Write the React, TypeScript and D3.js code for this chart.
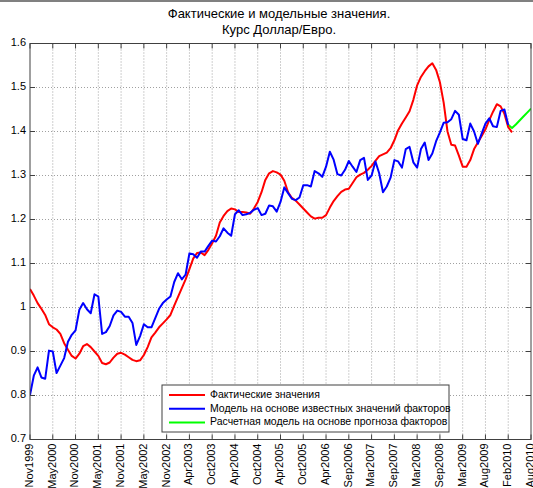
import React, { useEffect, useRef } from 'react';
import * as d3 from 'd3';

// подписи оси X (каждые 6 точек)
const tickLabels = [
    'Nov1999', 'May2000', 'Nov2000', 'May2001', 'Nov2001', 'May2002', 'Nov2002',
    'Apr2003', 'Oct2003', 'Apr2004', 'Oct2004', 'Apr2005', 'Oct2005', 'Apr2006',
    'Sep2006', 'Mar2007', 'Sep2007', 'Mar2008', 'Sep2008', 'Mar2009', 'Aug2009',
    'Feb2010', 'Aug2010',
];

const yTicks = [0.7, 0.8, 0.9, 1.0, 1.1, 1.2, 1.3, 1.4, 1.5, 1.6];

// фактические значения
const actual = [
    1.042, 1.027, 1.010, 0.997, 0.983, 0.962, 0.955, 0.950, 0.940, 0.919,
    0.904, 0.890, 0.884, 0.895, 0.912, 0.917, 0.910, 0.900, 0.890, 0.874,
    0.871, 0.875, 0.886, 0.895, 0.897, 0.893, 0.887, 0.881, 0.878, 0.880,
    0.892, 0.910, 0.932, 0.943, 0.955, 0.964, 0.973, 0.983, 1.004, 1.024,
    1.044, 1.064, 1.087, 1.111, 1.124, 1.125, 1.119, 1.131, 1.146, 1.163,
    1.193, 1.208, 1.219, 1.225, 1.223, 1.217, 1.217, 1.216, 1.213, 1.225,
    1.240, 1.262, 1.290, 1.305, 1.310, 1.307, 1.302, 1.288, 1.262, 1.249,
    1.243, 1.234, 1.225, 1.216, 1.207, 1.202, 1.204, 1.204, 1.210, 1.227,
    1.242, 1.253, 1.263, 1.268, 1.270, 1.283, 1.296, 1.302, 1.306, 1.313,
    1.322, 1.333, 1.344, 1.348, 1.352, 1.362, 1.380, 1.403, 1.418, 1.432,
    1.446, 1.472, 1.505, 1.524, 1.537, 1.548, 1.555, 1.540, 1.512, 1.465,
    1.400, 1.370, 1.368, 1.345, 1.320, 1.320, 1.335, 1.360, 1.375, 1.390,
    1.405, 1.426, 1.445, 1.462, 1.457, 1.440, 1.410, 1.398,
];

// модель на основе известных значений факторов
const model = [
    0.801, 0.845, 0.864, 0.841, 0.838, 0.902, 0.900, 0.851, 0.868, 0.885,
    0.922, 0.938, 0.948, 0.995, 1.010, 0.996, 0.987, 1.030, 1.025, 0.940,
    0.944, 0.958, 0.982, 0.993, 0.990, 0.979, 0.979, 0.965, 0.915, 0.935,
    0.962, 0.955, 0.955, 0.976, 0.997, 1.010, 1.018, 1.025, 1.058, 1.078,
    1.064, 1.075, 1.123, 1.121, 1.113, 1.127, 1.127, 1.140, 1.152, 1.150,
    1.162, 1.180, 1.170, 1.163, 1.212, 1.221, 1.210, 1.212, 1.215, 1.222,
    1.226, 1.210, 1.213, 1.232, 1.230, 1.218, 1.240, 1.273, 1.260, 1.247,
    1.244, 1.250, 1.278, 1.278, 1.275, 1.310, 1.305, 1.297, 1.320, 1.354,
    1.336, 1.303, 1.300, 1.313, 1.333, 1.320, 1.308, 1.335, 1.340, 1.290,
    1.300, 1.332, 1.305, 1.262, 1.275, 1.295, 1.335, 1.332, 1.318, 1.360,
    1.365, 1.330, 1.318, 1.360, 1.375, 1.335, 1.350, 1.378, 1.398, 1.420,
    1.421, 1.428, 1.447, 1.438, 1.383, 1.380, 1.418, 1.400, 1.372, 1.395,
    1.418, 1.430, 1.412, 1.410, 1.447, 1.450, 1.415,
];

// расчетная модель на основе прогноза факторов
const forecastStart = 126;
const forecast = [1.415, 1.408, 1.416, 1.425, 1.434, 1.443, 1.452];

const legendItems = [
    { label: 'Фактические значения', color: '#ff0000' },
    { label: 'Модель на основе известных значений факторов', color: '#0000ff' },
    { label: 'Расчетная модель на основе прогноза факторов', color: '#00ff00' },
];

const App: React.FC = () => {
    const svgRef = useRef<SVGSVGElement>(null);

    useEffect(() => {
        if (!svgRef.current) return;
        document.body.style.margin = '0';

        const svg = d3.select(svgRef.current);
        svg.selectAll('*').remove();

        const width = 533;
        const height = 488;
        const left = 30;
        const right = 531;
        const top = 43.5;
        const bottom = 439.5;
        const font = '"Liberation Sans", Arial, sans-serif';

        const nPoints = (tickLabels.length - 1) * 6;
        const x = d3.scaleLinear().domain([0, nPoints]).range([left, right]);
        const y = d3.scaleLinear().domain([0.7, 1.6]).range([bottom, top]);

        svg.append('rect')
            .attr('width', width)
            .attr('height', height)
            .attr('fill', '#fff');

        // серая линия сверху
        svg.append('line')
            .attr('x1', 0).attr('x2', width)
            .attr('y1', 1).attr('y2', 1)
            .attr('stroke', '#808080')
            .attr('stroke-width', 2);

        // заголовок
        const title = svg.append('text')
            .attr('x', 279)
            .attr('text-anchor', 'middle')
            .attr('font-family', font)
            .attr('font-size', '13px')
            .attr('fill', '#000');
        title.append('tspan').attr('x', 279).attr('y', 18).text('Фактические и модельные значения.');
        title.append('tspan').attr('x', 279).attr('y', 34).text('Курс Доллар/Евро.');

        // сетка
        const xTickIdx = d3.range(0, nPoints + 1, 6);
        svg.append('g')
            .selectAll('line')
            .data(xTickIdx.slice(1, -1))
            .join('line')
            .attr('x1', d => x(d)).attr('x2', d => x(d))
            .attr('y1', top).attr('y2', bottom)
            .attr('stroke', '#a0a0a0')
            .attr('stroke-width', 1)
            .attr('stroke-dasharray', '1,2');

        svg.append('g')
            .selectAll('line')
            .data(yTicks.slice(1, -1))
            .join('line')
            .attr('x1', left).attr('x2', right)
            .attr('y1', d => y(d)).attr('y2', d => y(d))
            .attr('stroke', '#a0a0a0')
            .attr('stroke-width', 1)
            .attr('stroke-dasharray', '1,2');

        // линии данных
        const clipId = 'plot-clip';
        svg.append('clipPath').attr('id', clipId)
            .append('rect')
            .attr('x', left).attr('y', top)
            .attr('width', right - left).attr('height', bottom - top);

        const line = d3.line<[number, number]>()
            .x(d => x(d[0]))
            .y(d => y(d[1]));

        const series: { data: [number, number][]; color: string }[] = [
            { data: forecast.map((v, i) => [forecastStart + i, v]), color: '#00ff00' },
            { data: actual.map((v, i) => [i, v]), color: '#ff0000' },
            { data: model.map((v, i) => [i, v]), color: '#0000ff' },
        ];

        series.forEach(s => {
            svg.append('path')
                .attr('d', line(s.data) as string)
                .attr('fill', 'none')
                .attr('stroke', s.color)
                .attr('stroke-width', 2)
                .attr('stroke-linejoin', 'round')
                .attr('clip-path', `url(#${clipId})`);
        });

        // рамка осей
        svg.append('rect')
            .attr('x', left).attr('y', top)
            .attr('width', right - left).attr('height', bottom - top)
            .attr('fill', 'none')
            .attr('stroke', '#404040')
            .attr('stroke-width', 1);

        // засечки
        const tickLen = 5;
        xTickIdx.forEach(d => {
            svg.append('line')
                .attr('x1', x(d)).attr('x2', x(d))
                .attr('y1', bottom).attr('y2', bottom - tickLen)
                .attr('stroke', '#404040');
            svg.append('line')
                .attr('x1', x(d)).attr('x2', x(d))
                .attr('y1', top).attr('y2', top + tickLen)
                .attr('stroke', '#404040');
        });
        yTicks.forEach(d => {
            svg.append('line')
                .attr('x1', left).attr('x2', left + tickLen)
                .attr('y1', y(d)).attr('y2', y(d))
                .attr('stroke', '#404040');
            svg.append('line')
                .attr('x1', right).attr('x2', right - tickLen)
                .attr('y1', y(d)).attr('y2', y(d))
                .attr('stroke', '#404040');
        });

        // подписи оси Y
        svg.append('g')
            .selectAll('text')
            .data(yTicks)
            .join('text')
            .attr('x', left - 4)
            .attr('y', d => y(d))
            .attr('text-anchor', 'end')
            .attr('dominant-baseline', 'middle')
            .attr('font-family', font)
            .attr('font-size', '11px')
            .attr('fill', '#000')
            .text(d => `${+d.toFixed(1)}`);

        // подписи оси X
        svg.append('g')
            .selectAll('text')
            .data(xTickIdx)
            .join('text')
            .attr('transform', d => `translate(${x(d)}, ${bottom + 4}) rotate(-90)`)
            .attr('text-anchor', 'end')
            .attr('dominant-baseline', 'middle')
            .attr('font-family', font)
            .attr('font-size', '11px')
            .attr('fill', '#000')
            .text((d, i) => tickLabels[i]);

        // легенда
        const lx = 162;
        const ly = 385;
        svg.append('rect')
            .attr('x', lx).attr('y', ly)
            .attr('width', 287).attr('height', 47)
            .attr('fill', '#fff')
            .attr('stroke', '#404040')
            .attr('stroke-width', 1);

        legendItems.forEach((item, i) => {
            const yy = ly + 10 + i * 13.8;
            svg.append('line')
                .attr('x1', lx + 7).attr('x2', lx + 43)
                .attr('y1', yy).attr('y2', yy)
                .attr('stroke', item.color)
                .attr('stroke-width', 2);
            svg.append('text')
                .attr('x', lx + 48)
                .attr('y', yy)
                .attr('dominant-baseline', 'middle')
                .attr('font-family', font)
                .attr('font-size', '10.5px')
                .attr('fill', '#000')
                .text(item.label);
        });
    }, []);

    return (
        <svg ref={svgRef} width="533" height="488" style={{ display: 'block' }}></svg>
    );
};

export default App;
